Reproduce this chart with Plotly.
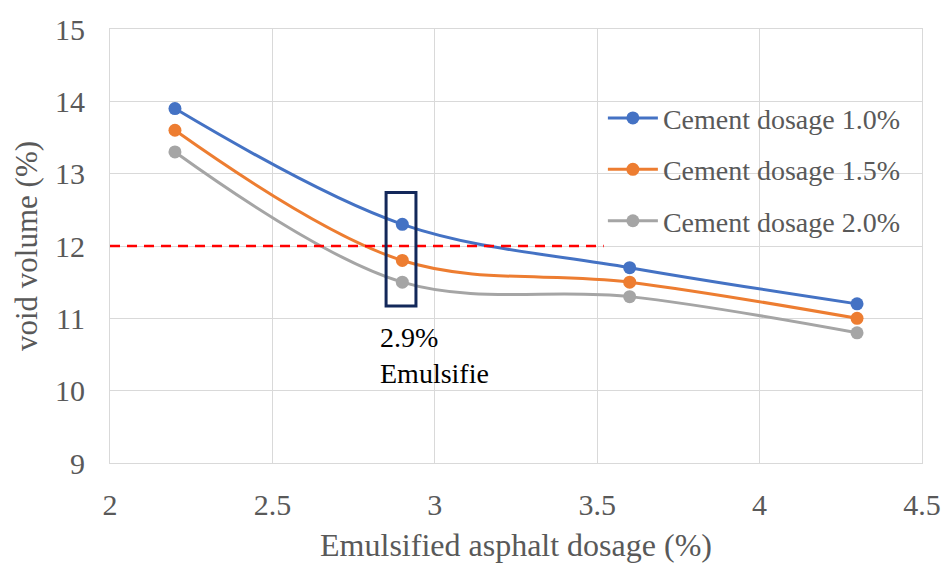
import plotly.graph_objects as go

# Emulsified asphalt dosage (%) on the x axis
dosage = [2.2, 2.9, 3.6, 4.3]

# Void volume (%) for each cement dosage
void_c10 = [13.9, 12.3, 11.7, 11.2]
void_c15 = [13.6, 11.8, 11.5, 11.0]
void_c20 = [13.3, 11.5, 11.3, 10.8]

series_names = ["Cement dosage 1.0%", "Cement dosage 1.5%", "Cement dosage 2.0%"]
series_colors = ["#4472C4", "#ED7D31", "#A5A5A5"]

# Reference limit and highlighted dosage
limit_void = 12.0
limit_end = 3.52
highlight_x = 2.9

FONT = "Liberation Serif"
TEXT_GRAY = "#595959"
GRID = "#d9d9d9"

fig = go.Figure()

for i, (name, vals, col) in enumerate(zip(series_names, [void_c10, void_c15, void_c20], series_colors)):
    fig.add_trace(go.Scatter(
        x=dosage, y=vals, name=name, mode="lines+markers",
        line=dict(color=col, width=3, shape="spline", smoothing=1.0),
        marker=dict(color=col, size=13),
        legendgroup=f"g{i}",
    ))

# Dashed red limit line at 12 %
fig.add_trace(go.Scatter(
    x=[2.0, limit_end], y=[limit_void, limit_void], mode="lines",
    line=dict(color="#FF0000", width=2.5, dash="10px,7px"),
    showlegend=False, hoverinfo="skip",
))

# Box around the 2.9 % points
col_at = dosage.index(highlight_x)
vals_at = [void_c10[col_at], void_c15[col_at], void_c20[col_at]]
fig.add_shape(
    type="rect", xref="x", yref="y",
    x0=highlight_x - 0.05, x1=highlight_x + 0.042,
    y0=min(vals_at) - 0.33, y1=max(vals_at) + 0.44,
    line=dict(color="#13285A", width=3), fillcolor="rgba(0,0,0,0)",
)

fig.add_annotation(
    x=highlight_x - 0.076, y=min(vals_at) - 0.52, xref="x", yref="y",
    text="2.9%<br>Emulsifie", showarrow=False, align="left",
    xanchor="left", yanchor="top",
    font=dict(family=FONT, size=28, color="#000000"),
)

fig.update_layout(
    width=943, height=563,
    margin=dict(l=110, r=21, t=29, b=100),
    paper_bgcolor="white", plot_bgcolor="white",
    font=dict(family=FONT, color=TEXT_GRAY),
    legend=dict(
        x=0.607, y=0.852, xanchor="left", yanchor="top",
        bgcolor="rgba(0,0,0,0)", font=dict(family=FONT, size=28, color=TEXT_GRAY),
        tracegroupgap=12, traceorder="grouped", itemwidth=50,
    ),
    showlegend=True,
)

fig.update_xaxes(
    range=[2, 4.5], dtick=0.5, tick0=2, automargin=False,
    showgrid=True, gridcolor=GRID, gridwidth=1,
    showline=True, linecolor=GRID, linewidth=1, mirror=True,
    zeroline=False, ticks="", ticklabelstandoff=15,
    tickfont=dict(family=FONT, size=30, color=TEXT_GRAY),
    title=dict(text="Emulsified asphalt dosage (%)", standoff=14,
               font=dict(family=FONT, size=32, color=TEXT_GRAY)),
)
fig.update_yaxes(
    range=[9, 15], dtick=1, tick0=9, automargin=False,
    showgrid=True, gridcolor=GRID, gridwidth=1,
    showline=True, linecolor=GRID, linewidth=1, mirror=True,
    zeroline=False, ticks="", ticklabelstandoff=18,
    tickfont=dict(family=FONT, size=30, color=TEXT_GRAY),
    title=dict(text="void volume (%)", standoff=8,
               font=dict(family=FONT, size=31, color=TEXT_GRAY)),
)

fig.write_html("out.html")
